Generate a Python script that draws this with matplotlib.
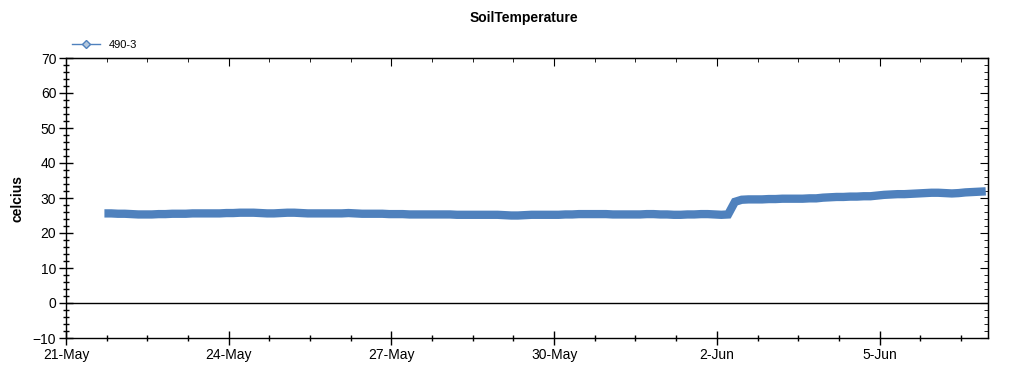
import matplotlib
matplotlib.use("Agg")
import matplotlib.pyplot as plt
import matplotlib.dates as mdates
from matplotlib.lines import Line2D
from matplotlib.ticker import MultipleLocator
import pandas as pd

plt.rcParams["font.family"] = ["Liberation Sans", "DejaVu Sans"]

# 3-hourly readings, 21-May 17:00 to 6-Jun 23:00
temps = [
    25.6, 25.6,
    25.5, 25.5, 25.4, 25.3, 25.3, 25.3, 25.4, 25.4,  # 22-May
    25.5, 25.5, 25.5, 25.6, 25.6, 25.6, 25.6, 25.6,  # 23-May
    25.7, 25.7, 25.8, 25.8, 25.8, 25.7, 25.6, 25.6,  # 24-May
    25.7, 25.8, 25.8, 25.7, 25.6, 25.6, 25.6, 25.6,  # 25-May
    25.6, 25.6, 25.7, 25.6, 25.5, 25.5, 25.5, 25.5,  # 26-May
    25.4, 25.4, 25.4, 25.3, 25.3, 25.3, 25.3, 25.3,  # 27-May
    25.3, 25.3, 25.2, 25.2, 25.2, 25.2, 25.2, 25.2,  # 28-May
    25.2, 25.1, 25.0, 25.0, 25.1, 25.2, 25.2, 25.2,  # 29-May
    25.2, 25.2, 25.3, 25.3, 25.4, 25.4, 25.4, 25.4,  # 30-May
    25.4, 25.3, 25.3, 25.3, 25.3, 25.3, 25.4, 25.4,  # 31-May
    25.3, 25.3, 25.2, 25.2, 25.3, 25.3, 25.4, 25.4,  # 1-Jun
    25.3, 25.2, 25.3, 28.9, 29.5, 29.6, 29.6, 29.6,  # 2-Jun
    29.7, 29.7, 29.8, 29.8, 29.8, 29.8, 29.9, 29.9,  # 3-Jun
    30.1, 30.2, 30.3, 30.3, 30.4, 30.4, 30.5, 30.5,  # 4-Jun
    30.7, 30.9, 31.0, 31.1, 31.1, 31.2, 31.3, 31.4,  # 5-Jun
    31.5, 31.5, 31.4, 31.3, 31.4, 31.6, 31.7, 31.8,  # 6-Jun
    31.9,
]
times = pd.date_range("2013-05-21 17:00", periods=len(temps), freq="3h")

series_color = "#4f81bd"

fig = plt.figure(figsize=(10.24, 3.75), dpi=100)
ax = fig.add_axes([66 / 1024, 37 / 375, 922 / 1024, 280 / 375])

ax.plot(times, temps, color=series_color, linewidth=6, solid_capstyle="butt",
        solid_joinstyle="miter")
ax.axhline(0, color="black", linewidth=1)

x0 = mdates.date2num(pd.Timestamp("2013-05-21"))
x1 = mdates.date2num(pd.Timestamp("2013-06-07"))
ax.set_xlim(x0, x1)
ax.set_ylim(-10, 70)

ax.xaxis.set_major_locator(MultipleLocator(3, offset=x0 % 3))
ax.xaxis.set_minor_locator(MultipleLocator(0.75, offset=x0 % 0.75))
ax.xaxis.set_major_formatter(mdates.DateFormatter("%-d-%b"))
ax.yaxis.set_major_locator(MultipleLocator(10))
ax.yaxis.set_minor_locator(MultipleLocator(2))

ax.tick_params(which="major", direction="inout", length=10, width=1,
               labelsize=10, pad=2)
ax.tick_params(which="minor", direction="inout", length=5, width=1)
for s in ax.spines.values():
    s.set_linewidth(1)

# right and top ticks point inward
sec_y = ax.secondary_yaxis("right")
sec_y.yaxis.set_major_locator(MultipleLocator(10))
sec_y.yaxis.set_minor_locator(MultipleLocator(2))
sec_y.tick_params(which="major", direction="in", length=6, labelright=False)
sec_y.tick_params(which="minor", direction="in", length=3)

sec_x = ax.secondary_xaxis("top")
sec_x.xaxis.set_major_locator(MultipleLocator(3, offset=x0 % 3))
sec_x.xaxis.set_minor_locator(MultipleLocator(0.75, offset=x0 % 0.75))
sec_x.tick_params(which="major", direction="in", length=6, labeltop=False)
sec_x.tick_params(which="minor", direction="in", length=3)

ax.set_ylabel("celcius", fontsize=10, fontweight="bold", labelpad=6)
fig.text(524 / 1024, 1 - 18 / 375, "SoilTemperature", ha="center", va="center",
         fontsize=10, fontweight="bold")

handle = Line2D([], [], color=series_color, linewidth=1, marker="D",
                markersize=4.5, markerfacecolor="#b4c7dc",
                markeredgecolor=series_color)
fig.legend([handle], ["490-3"], loc="center left",
           bbox_to_anchor=(62 / 1024, 1 - 45 / 375), frameon=False,
           fontsize=8, handlelength=2.5, handletextpad=0.8)

fig.savefig("out.png", dpi=100)
